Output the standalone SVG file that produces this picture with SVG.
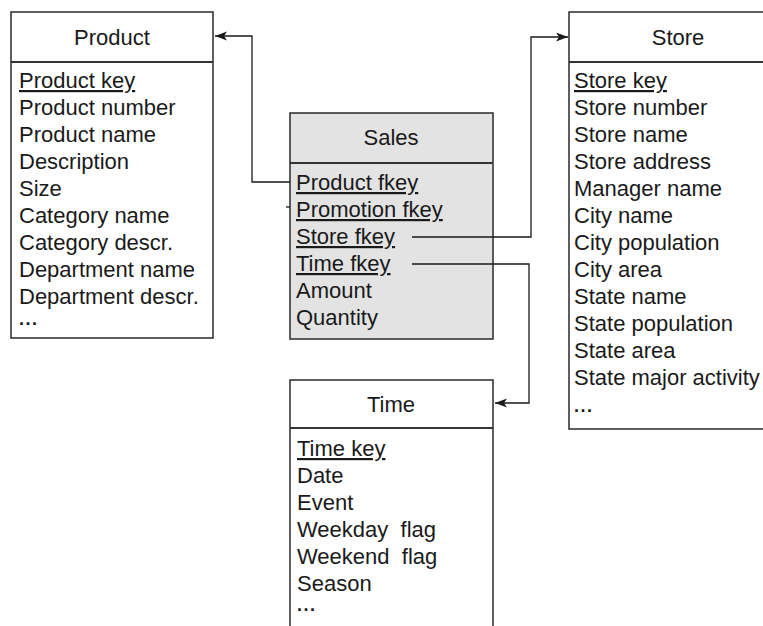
<svg xmlns="http://www.w3.org/2000/svg" width="763" height="626" viewBox="0 0 763 626">
<style>
.box{fill:#fff;stroke:#2a2a2a;stroke-width:1.5}
.fact{fill:#e3e3e3;stroke:#2a2a2a;stroke-width:1.5}
.div{stroke:#333;stroke-width:2}
text{font-family:"Liberation Sans",Arial,sans-serif;font-size:22px;fill:#1a1a1a}
.t{text-anchor:middle}
.k{text-decoration:underline}
.d{font-weight:bold;font-size:18px;letter-spacing:1.5px}
.c{fill:none;stroke:#1a1a1a;stroke-width:1.3}
</style>
<defs>
<marker id="ah" markerUnits="userSpaceOnUse" markerWidth="13" markerHeight="10" refX="12" refY="4.5" orient="auto">
<path d="M0,0 L12,4.5 L0,9 L3,4.5 z" fill="#1a1a1a"/>
</marker>
</defs>
<rect width="763" height="626" fill="#fff"/>
<g id="product">
<rect class="box" x="11" y="12" width="202" height="326"/>
<line class="div" x1="11" y1="62" x2="213" y2="62"/>
<text class="t" x="112" y="45">Product</text>
<text class="k" x="19" y="88">Product key</text>
<text x="19" y="115">Product number</text>
<text x="19" y="142">Product name</text>
<text x="19" y="169">Description</text>
<text x="19" y="196">Size</text>
<text x="19" y="223">Category name</text>
<text x="19" y="250">Category descr.</text>
<text x="19" y="277">Department name</text>
<text x="19" y="304">Department descr.</text>
<text class="d" x="19" y="325">...</text>
</g>
<g id="sales">
<rect class="fact" x="290" y="113" width="203" height="226"/>
<line class="div" x1="290" y1="163" x2="493" y2="163"/>
<text class="t" x="391" y="145">Sales</text>
<text class="k" x="296" y="190">Product fkey</text>
<text class="k" x="296" y="217">Promotion fkey</text>
<text class="k" x="296" y="244">Store fkey</text>
<text class="k" x="296" y="271">Time fkey</text>
<text x="296" y="298">Amount</text>
<text x="296" y="325">Quantity</text>
</g>
<g id="store">
<rect class="box" x="569" y="12" width="220" height="417"/>
<line class="div" x1="569" y1="62" x2="789" y2="62"/>
<text class="t" x="678" y="45">Store</text>
<text class="k" x="574" y="88">Store key</text>
<text x="574" y="115">Store number</text>
<text x="574" y="142">Store name</text>
<text x="574" y="169">Store address</text>
<text x="574" y="196">Manager name</text>
<text x="574" y="223">City name</text>
<text x="574" y="250">City population</text>
<text x="574" y="277">City area</text>
<text x="574" y="304">State name</text>
<text x="574" y="331">State population</text>
<text x="574" y="358">State area</text>
<text x="574" y="385">State major activity</text>
<text class="d" x="574" y="412">...</text>
</g>
<g id="time">
<rect class="box" x="290" y="380" width="203" height="260"/>
<line class="div" x1="290" y1="428" x2="493" y2="428"/>
<text class="t" x="391" y="412">Time</text>
<text class="k" x="297" y="456">Time key</text>
<text x="297" y="483">Date</text>
<text x="297" y="510">Event</text>
<text x="297" y="537" xml:space="preserve">Weekday  flag</text>
<text x="297" y="564" xml:space="preserve">Weekend  flag</text>
<text x="297" y="591">Season</text>
<text class="d" x="297" y="611">...</text>
</g>
<g id="connectors">
<path class="c" d="M290,182 H252 V36 H215" marker-end="url(#ah)"/>
<path class="c" d="M412,237 H531 V37 H568" marker-end="url(#ah)"/>
<path class="c" d="M412,264 H529 V403 H495" marker-end="url(#ah)"/>
<path class="c" d="M286,207 H290"/>
</g>
</svg>
